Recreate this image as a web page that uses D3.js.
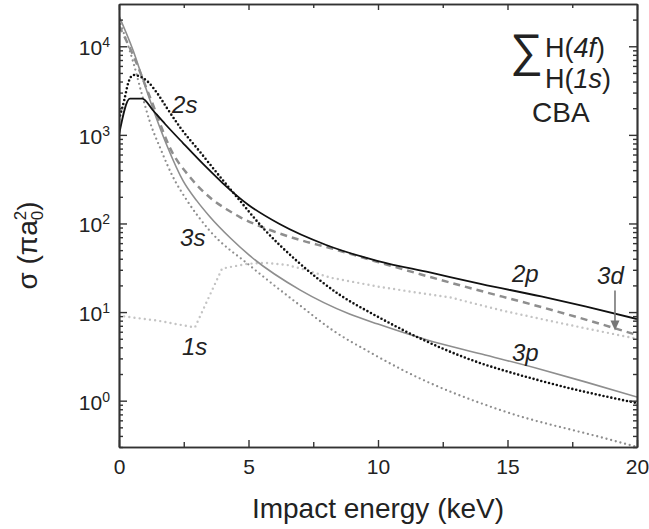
<!DOCTYPE html>
<html>
<head>
<meta charset="utf-8">
<script src="https://cdn.jsdelivr.net/npm/d3@7"></script>
<style>
  body { margin: 0; background: #fff; }
  svg text { font-family: "Liberation Sans", Arial, Helvetica, sans-serif; fill: #222; }
</style>
</head>
<body>
<svg id="chart" width="649" height="529"></svg>
<script>
// Electron-capture cross sections into H(nl) states, CBA, sigma in units of pi a0^2
const energy2p = [0, 0.42, 0.9, 1.3, 1.78, 2.47, 3.4, 4.0, 5.0, 6.2, 8.0, 10, 12, 14, 16.3, 18, 20];
const sigma2p  = [1000, 2570, 2570, 1909, 1327, 809, 423, 286, 162, 98.6, 57.2, 37.7, 28.0, 20.7, 15.0, 11.56, 8.35];

const energy2s = [0, 0.2, 0.35, 0.55, 0.85, 1.08, 1.47, 1.85, 2.35, 3.13, 4.0, 4.55, 5.56, 6.87, 8.53, 9.8, 13.2, 16.3, 20];
const sigma2s  = [1500, 2450, 3800, 4740, 4500, 4060, 2970, 2010, 1227, 641, 310, 199, 88.9, 37.7, 15.6, 9.5, 3.19, 1.67, 0.94];

const energy3p = [0, 0.55, 0.9, 1.2, 1.85, 2.47, 3.0, 3.5, 4.3, 5.17, 7.0, 8.9, 10, 11.9, 14, 16.3, 18, 20];
const sigma3p  = [22000, 8900, 4450, 2450, 760, 305, 181, 120, 68.5, 40.5, 17.7, 9.51, 7.33, 4.84, 3.36, 2.25, 1.63, 1.10];

const energy3d = [0, 0.55, 1.2, 2.08, 2.63, 3.63, 4.2, 4.67, 5.83, 7.0, 8.15, 10, 11.6, 13.55, 16.3, 18.2, 20];
const sigma3d  = [17000, 7900, 2650, 615, 365, 184, 142, 118, 84.4, 65.0, 52.8, 36.7, 26.9, 18.7, 11.4, 7.93, 5.51];

const energy3s = [0, 0.55, 0.9, 1.2, 1.6, 2.05, 2.63, 3.5, 5.05, 7.0, 8.26, 9.7, 11, 14.8, 18.7, 20];
const sigma3s  = [20000, 6600, 2760, 1380, 700, 350, 181, 83, 33.5, 11.8, 6.2, 3.5, 2.18, 0.77, 0.38, 0.30];

const energy1s = [0, 1.5, 2.93, 3.98, 4.94, 5.6, 6.5, 7.3, 8.15, 10, 11.5, 12.8, 14.8, 16.6, 18.3, 20];
const sigma1s  = [9.1, 8.0, 6.7, 31, 35, 36, 34, 29.4, 24.5, 19.4, 16.6, 14.6, 10.4, 8.0, 6.3, 5.0];

const xMajorTicks = [0, 5, 10, 15, 20];
const xMinorTicks = [2.5, 7.5, 12.5, 17.5];
const yMajorTicks = [1, 10, 100, 1000, 10000];
const yMajorExponents = ["0", "1", "2", "3", "4"];

// curve labels: [text, energy at left edge, sigma at baseline]
const curveLabels = [
  ["2s", 2.05, 1785],
  ["3s", 2.36, 56],
  ["1s", 2.43, 3.3],
  ["2p", 15.17, 22.1],
  ["3d", 18.46, 20.9],
  ["3p", 15.17, 2.83]
];

const svg = d3.select("#chart");
const plotLeft = 119, plotRight = 637, plotTop = 4, plotBottom = 447;

const x = d3.scaleLinear().domain([0, 20]).range([plotLeft, plotRight]);
const y = d3.scaleLog().domain([0.3, 30000]).range([plotBottom, plotTop]);

const yMinorTicks = [];
for (let p = -1; p <= 4; p++) {
  for (let m = 2; m <= 9; m++) {
    const v = +(m * Math.pow(10, p)).toPrecision(3);
    if (v >= 0.3 && v < 30000) yMinorTicks.push(v);
  }
}

// ---- series ----
const series = [
  { e: energy1s, s: sigma1s, color: "#c4c4c4", width: 2.4, dash: "0 5.2", curve: d3.curveLinear },
  { e: energy3s, s: sigma3s, color: "#8e8e8e", width: 2.3, dash: "0 4.8", curve: d3.curveMonotoneX },
  { e: energy3p, s: sigma3p, color: "#8e8e8e", width: 1.6, dash: null, curve: d3.curveMonotoneX },
  { e: energy3d, s: sigma3d, color: "#8e8e8e", width: 2.5, dash: "7 5", curve: d3.curveMonotoneX },
  { e: energy2s, s: sigma2s, color: "#111", width: 2.6, dash: "0 4", curve: d3.curveMonotoneX },
  { e: energy2p, s: sigma2p, color: "#111", width: 1.8, dash: null, curve: d3.curveMonotoneX }
];

const plot = svg.append("g");
plot.append("defs").append("clipPath").attr("id", "clip")
  .append("rect").attr("x", plotLeft).attr("y", plotTop)
  .attr("width", plotRight - plotLeft).attr("height", plotBottom - plotTop);

series.forEach(sr => {
  const pts = sr.e.map((e, i) => [e, sr.s[i]]);
  const line = d3.line().x(d => x(d[0])).y(d => y(d[1])).curve(sr.curve);
  plot.append("path")
    .attr("clip-path", "url(#clip)")
    .attr("d", line(pts))
    .attr("fill", "none")
    .attr("stroke", sr.color)
    .attr("stroke-width", sr.width)
    .attr("stroke-linecap", sr.dash && sr.dash.startsWith("0") ? "round" : "butt")
    .attr("stroke-dasharray", sr.dash);
});

// ---- axes ----
function styleAxis(g) {
  g.selectAll("path.domain").attr("stroke", "#333").attr("stroke-width", 1.7);
  g.selectAll(".tick line").attr("stroke", "#333").attr("stroke-width", 1.4);
  g.selectAll(".tick text").attr("fill", "#222").style("font-size", "21px")
    .style("font-family", "'Liberation Sans', Arial, sans-serif");
}

svg.append("g").attr("transform", `translate(0,${plotBottom})`)
  .call(d3.axisBottom(x).tickValues(xMinorTicks).tickSize(-5).tickSizeOuter(0).tickFormat(""))
  .call(styleAxis);
svg.append("g").attr("transform", `translate(0,${plotBottom})`)
  .call(d3.axisBottom(x).tickValues(xMajorTicks).tickSize(-7).tickSizeOuter(0).tickPadding(12).tickFormat(d3.format("d")))
  .call(styleAxis);

svg.append("g").attr("transform", `translate(0,${plotTop})`)
  .call(d3.axisTop(x).tickValues(xMinorTicks).tickSize(-4).tickSizeOuter(0).tickFormat(""))
  .call(styleAxis);
svg.append("g").attr("transform", `translate(0,${plotTop})`)
  .call(d3.axisTop(x).tickValues(xMajorTicks).tickSize(-6).tickSizeOuter(0).tickFormat(""))
  .call(styleAxis);

svg.append("g").attr("transform", `translate(${plotLeft},0)`)
  .call(d3.axisLeft(y).tickValues(yMinorTicks).tickSize(-4).tickSizeOuter(0).tickFormat(""))
  .call(styleAxis);
const yAxisG = svg.append("g").attr("transform", `translate(${plotLeft},0)`)
  .call(d3.axisLeft(y).tickValues(yMajorTicks).tickSize(-8).tickSizeOuter(0).tickFormat(""))
  .call(styleAxis);

svg.append("g").attr("transform", `translate(${plotRight},0)`)
  .call(d3.axisRight(y).tickValues(yMinorTicks).tickSize(-4).tickSizeOuter(0).tickFormat(""))
  .call(styleAxis);
svg.append("g").attr("transform", `translate(${plotRight},0)`)
  .call(d3.axisRight(y).tickValues(yMajorTicks).tickSize(-8).tickSizeOuter(0).tickFormat(""))
  .call(styleAxis);

// power-of-ten labels on the left axis
yAxisG.selectAll(".tick").each(function (d, i) {
  const t = d3.select(this).append("text")
    .attr("x", -9).attr("y", 8.5)
    .attr("text-anchor", "end")
    .style("font-size", "21px");
  t.append("tspan").text("10");
  t.append("tspan").attr("dy", -8).style("font-size", "14px").text(yMajorExponents[i]);
});

// axis titles
svg.append("text")
  .attr("x", (plotLeft + plotRight) / 2).attr("y", 518)
  .attr("text-anchor", "middle")
  .style("font-size", "28px")
  .text("Impact energy (keV)");

const yt = svg.append("text")
  .attr("transform", `translate(37,${(plotTop + plotBottom) / 2 + 20}) rotate(-90)`)
  .attr("text-anchor", "middle")
  .style("font-size", "28px");
yt.append("tspan").text("σ (πa");
yt.append("tspan").attr("dy", 6).style("font-size", "17px").text("0");
yt.append("tspan").attr("dx", -9.5).attr("dy", -17).style("font-size", "17px").text("2");
yt.append("tspan").attr("dy", 11).text(")");

// curve labels
curveLabels.forEach(([txt, e, s]) => {
  svg.append("text")
    .attr("x", x(e)).attr("y", y(s))
    .style("font-size", "24px")
    .style("font-style", "italic")
    .text(txt);
});

// arrow pointing to the 3d curve
const arrowE = 19.15, arrowFrom = 17.5, arrowTo = 6.2;
const ax = x(arrowE), ay0 = y(arrowFrom), ay1 = y(arrowTo);
svg.append("line")
  .attr("x1", ax).attr("x2", ax).attr("y1", ay0).attr("y2", ay1 - 8)
  .attr("stroke", "#777").attr("stroke-width", 1.6);
svg.append("path")
  .attr("d", `M${ax - 4.5},${ay1 - 10} L${ax + 4.5},${ay1 - 10} L${ax},${ay1} Z`)
  .attr("fill", "#777");

// panel annotation: sum over H(1s)..H(4f), CBA
svg.append("text").attr("x", 510).attr("y", 66)
  .style("font-size", "46px").text("∑");
const hTop = svg.append("text").attr("x", 545).attr("y", 57).style("font-size", "27px");
hTop.append("tspan").text("H(");
hTop.append("tspan").style("font-style", "italic").text("4f");
hTop.append("tspan").text(")");
const hBot = svg.append("text").attr("x", 545).attr("y", 88).style("font-size", "27px");
hBot.append("tspan").text("H(");
hBot.append("tspan").style("font-style", "italic").text("1s");
hBot.append("tspan").text(")");
svg.append("text").attr("x", 532).attr("y", 122).style("font-size", "28px").text("CBA");
</script>
</body>
</html>
